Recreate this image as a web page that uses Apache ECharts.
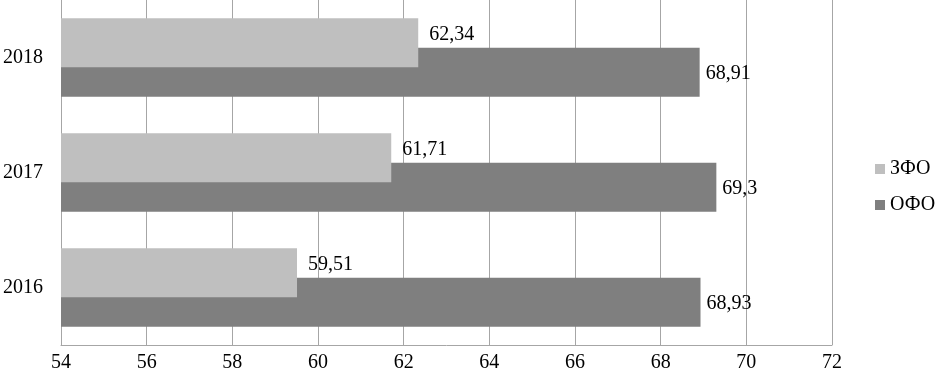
<!DOCTYPE html>
<html><head><meta charset="utf-8">
<script src="https://cdn.jsdelivr.net/npm/echarts@6/dist/echarts.min.js"></script>
<style>html,body{margin:0;padding:0;background:#fff}#c{width:935px;height:377px}</style>
</head><body><div id="c"></div>
<script>
const years = ['2016', '2017', '2018'];
const zfo = [59.51, 61.71, 62.34];
const ofo = [68.93, 69.3, 68.91];
const xTicks = {min: 54, max: 72, interval: 2};
const fmt = p => String(p.value).replace('.', ',');
const font = 'Liberation Serif';
const chart = echarts.init(document.getElementById('c'));
chart.setOption({
  animation: false,
  textStyle: {fontFamily: font},
  grid: {left: 59, right: 103, top: -1, bottom: 32},
  legend: {
    data: ['ЗФО', 'ОФО'], orient: 'vertical', left: 875, top: 159, padding: 0,
    itemWidth: 10, itemHeight: 10, itemGap: 16, icon: 'rect',
    textStyle: {fontFamily: font, fontSize: 20, lineHeight: 20, color: '#000'}
  },
  xAxis: {
    type: 'value', min: xTicks.min, max: xTicks.max, interval: xTicks.interval,
    axisLine: {show: true, lineStyle: {color: '#a6a6a6', width: 1}},
    axisTick: {show: false},
    splitLine: {show: true, lineStyle: {color: '#a6a6a6', width: 1}},
    axisLabel: {color: '#000', fontSize: 20, fontFamily: font, margin: 8}
  },
  yAxis: {
    type: 'category', data: years,
    axisLine: {show: true, lineStyle: {color: '#a6a6a6', width: 1}},
    axisTick: {show: false},
    axisLabel: {color: '#000', fontSize: 20, fontFamily: font, margin: 18}
  },
  series: [
    {name: 'ЗФО', type: 'bar', data: zfo, barWidth: 49, barGap: '-40%', z: 3,
     itemStyle: {color: '#bfbfbf'},
     label: {show: true, position: 'right', distance: 11, offset: [0, -8], formatter: fmt,
             color: '#000', fontSize: 20, fontFamily: font}},
    {name: 'ОФО', type: 'bar', data: ofo, barWidth: 49, barGap: '-40%', z: 2,
     itemStyle: {color: '#7f7f7f'},
     label: {show: true, position: 'right', distance: 6, offset: [0, 2], formatter: fmt,
             color: '#000', fontSize: 20, fontFamily: font}}
  ]
});
</script></body></html>
